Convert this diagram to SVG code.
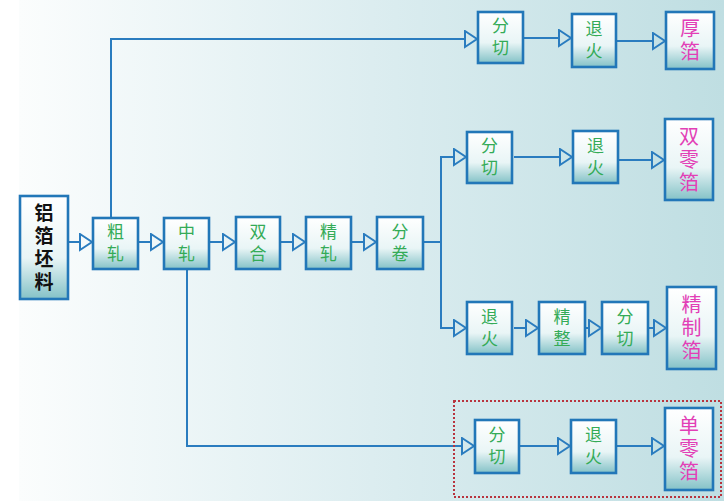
<svg xmlns="http://www.w3.org/2000/svg" width="724" height="502" viewBox="0 0 724 502">
<defs>
<linearGradient id="bg" x1="0" y1="0" x2="1" y2="0">
<stop offset="0" stop-color="#fbfdfd"/>
<stop offset="0.5" stop-color="#dcedf0"/>
<stop offset="1" stop-color="#bfdee2"/>
</linearGradient>
<linearGradient id="boxfill" x1="0" y1="0" x2="0" y2="1">
<stop offset="0" stop-color="#ffffff"/>
<stop offset="0.6" stop-color="#e9f5f6"/>
<stop offset="1" stop-color="#84c2c7"/>
</linearGradient>
<marker id="arr" markerUnits="userSpaceOnUse" markerWidth="16" markerHeight="20" refX="1" refY="9" orient="auto" viewBox="0 0 16 20">
<path d="M1,1 L13,9 L1,17 Z" fill="none" stroke="#2a7cbf" stroke-width="2" stroke-linejoin="miter"/>
</marker>
<style>
.box{fill:url(#boxfill);stroke:#2277b8;stroke-width:2.6}
text{font-family:"Liberation Sans","Noto Sans CJK SC",sans-serif;text-anchor:middle;dominant-baseline:central}
.g{font-size:17px;fill:#34ab57}
.m{font-size:20px;fill:#e23fb6}
.k{font-size:19px;font-weight:bold;fill:#111}
.c{fill:none;stroke:#2a7cbf;stroke-width:2}
.ca{fill:none;stroke:#2a7cbf;stroke-width:2;marker-end:url(#arr)}
</style>
</defs>
<rect x="19" y="0" width="705" height="501" fill="url(#bg)"/>

<g id="connectors">
<line class="ca" x1="68" y1="242" x2="80" y2="242"/>
<line class="ca" x1="138" y1="242" x2="151" y2="242"/>
<line class="ca" x1="209" y1="242" x2="223" y2="242"/>
<line class="ca" x1="280" y1="242" x2="293" y2="242"/>
<line class="ca" x1="351" y1="242" x2="364" y2="242"/>
<polyline class="c" points="423,242 441,242"/>
<line class="c" x1="441" y1="157" x2="441" y2="328"/>
<line class="ca" x1="440" y1="157" x2="454" y2="157"/>
<line class="ca" x1="440" y1="328" x2="454" y2="328"/>
<polyline class="ca" points="111,218 111,39 465,39"/>
<polyline class="ca" points="187,269 187,446 462,446"/>
<line class="ca" x1="523" y1="38" x2="559" y2="38"/>
<line class="ca" x1="616" y1="41" x2="653" y2="41"/>
<line class="ca" x1="514" y1="157" x2="560" y2="157"/>
<line class="ca" x1="618" y1="160" x2="652" y2="160"/>
<line class="ca" x1="514" y1="328" x2="526" y2="328"/>
<line class="ca" x1="585" y1="328" x2="589" y2="328"/>
<line class="ca" x1="648" y1="328" x2="654" y2="328"/>
<line class="ca" x1="519" y1="446" x2="558" y2="446"/>
<line class="ca" x1="616" y1="446" x2="652" y2="446"/>
</g>

<rect id="group-danling" x="454" y="401" width="267" height="96" fill="none" stroke="#b8343e" stroke-width="2" stroke-dasharray="2 2"/>

<g id="raw"><rect class="box" x="20" y="196" width="48" height="103"/>
<text class="k" x="44" y="213">铝</text><text class="k" x="44" y="236">箔</text><text class="k" x="44" y="259">坯</text><text class="k" x="44" y="282">料</text></g>

<g id="cuzha"><rect class="box" x="93" y="218" width="45" height="51"/>
<text class="g" x="115.5" y="232.5">粗</text><text class="g" x="115.5" y="254.5">轧</text></g>

<g id="zhongzha"><rect class="box" x="164" y="218" width="45" height="51"/>
<text class="g" x="186.5" y="232.5">中</text><text class="g" x="186.5" y="254.5">轧</text></g>

<g id="shuanghe"><rect class="box" x="236" y="217" width="44" height="52"/>
<text class="g" x="258" y="232">双</text><text class="g" x="258" y="254">合</text></g>

<g id="jingzha"><rect class="box" x="306" y="217" width="45" height="52"/>
<text class="g" x="328.5" y="232">精</text><text class="g" x="328.5" y="254">轧</text></g>

<g id="fenjuan"><rect class="box" x="377" y="217" width="46" height="52"/>
<text class="g" x="400" y="232">分</text><text class="g" x="400" y="254">卷</text></g>

<g id="r1-fenqie"><rect class="box" x="478" y="12" width="45" height="51"/>
<text class="g" x="500.5" y="26.5">分</text><text class="g" x="500.5" y="48.5">切</text></g>

<g id="r1-tuihuo"><rect class="box" x="572" y="14" width="44" height="53"/>
<text class="g" x="594" y="29.5">退</text><text class="g" x="594" y="51.5">火</text></g>

<g id="houbo"><rect class="box" x="666" y="12" width="48" height="57"/>
<text class="m" x="690" y="29">厚</text><text class="m" x="690" y="52">箔</text></g>

<g id="r2-fenqie"><rect class="box" x="467" y="132" width="45" height="51"/>
<text class="g" x="489.5" y="146.5">分</text><text class="g" x="489.5" y="168.5">切</text></g>

<g id="r2-tuihuo"><rect class="box" x="573" y="131" width="45" height="52"/>
<text class="g" x="595.5" y="146">退</text><text class="g" x="595.5" y="168">火</text></g>

<g id="shuanglingbo"><rect class="box" x="665" y="119" width="48" height="81"/>
<text class="m" x="689" y="136.5">双</text><text class="m" x="689" y="159.5">零</text><text class="m" x="689" y="182.5">箔</text></g>

<g id="r3-tuihuo"><rect class="box" x="467" y="302" width="45" height="52"/>
<text class="g" x="489.5" y="317">退</text><text class="g" x="489.5" y="339">火</text></g>

<g id="r3-jingzheng"><rect class="box" x="539" y="302" width="46" height="52"/>
<text class="g" x="562" y="317">精</text><text class="g" x="562" y="339">整</text></g>

<g id="r3-fenqie"><rect class="box" x="602" y="302" width="46" height="52"/>
<text class="g" x="625" y="317">分</text><text class="g" x="625" y="339">切</text></g>

<g id="jingzhibo"><rect class="box" x="667" y="287" width="49" height="82"/>
<text class="m" x="691.5" y="305">精</text><text class="m" x="691.5" y="328">制</text><text class="m" x="691.5" y="351">箔</text></g>

<g id="r4-fenqie"><rect class="box" x="475" y="420" width="44" height="53"/>
<text class="g" x="497" y="435.5">分</text><text class="g" x="497" y="457.5">切</text></g>

<g id="r4-tuihuo"><rect class="box" x="571" y="420" width="45" height="53"/>
<text class="g" x="593.5" y="435.5">退</text><text class="g" x="593.5" y="457.5">火</text></g>

<g id="danlingbo"><rect class="box" x="665" y="408" width="48" height="82"/>
<text class="m" x="689" y="426">单</text><text class="m" x="689" y="449">零</text><text class="m" x="689" y="472">箔</text></g>
</svg>
